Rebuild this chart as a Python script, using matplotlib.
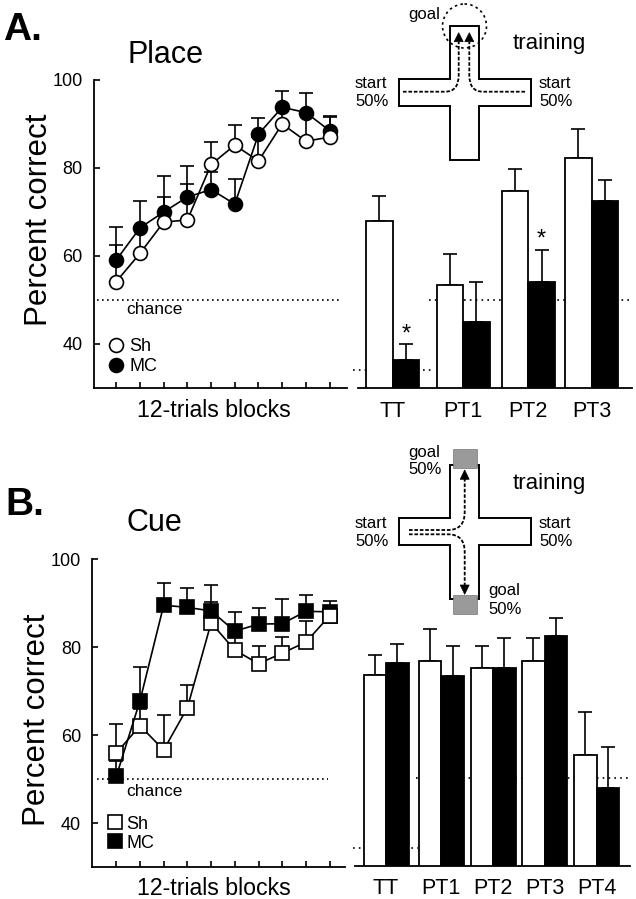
import numpy as np
import matplotlib
matplotlib.use('Agg')
from matplotlib import pyplot as plt
from matplotlib.lines import Line2D
from matplotlib.path import Path
from matplotlib.patches import PathPatch, Polygon, Circle, Rectangle

plt.rcParams['font.family'] = ['Liberation Sans', 'DejaVu Sans']

W, H = 636, 899

# Datos
blocks = np.arange(1, 11)
chance = 50
tt_chance = 34.2

place_sh = [54.2, 60.6, 67.7, 68.2, 80.8, 85.2, 81.6, 90.0, 86.1, 87.0]
place_sh_top = [62.6, 66.5, 73.4, 76.4, 85.8, 89.7, 87.0, 94.0, 92.6, 91.5]
place_mc = [59.1, 66.4, 70.0, 73.4, 75.1, 71.8, 87.7, 93.8, 92.6, 88.5]
place_mc_top = [66.5, 72.4, 78.2, 80.5, 79.0, 77.4, 91.3, 97.6, 97.1, 91.8]

cue_sh = [55.9, 62.1, 56.6, 66.2, 85.5, 79.3, 76.2, 78.6, 81.1, 87.1]
cue_sh_top = [62.4, 66.0, 64.6, 71.4, 90.3, 83.0, 80.3, 82.2, 85.8, 88.6]
cue_mc = [50.6, 67.8, 89.5, 89.0, 88.2, 83.6, 85.2, 85.3, 88.1, 88.0]
cue_mc_top = [54.0, 75.4, 94.5, 93.3, 94.2, 88.0, 88.9, 91.0, 91.8, 90.5]

place_tests = ['TT', 'PT1', 'PT2', 'PT3']
place_bar_sh = [68.0, 53.3, 74.8, 82.3]
place_bar_sh_top = [73.6, 60.5, 79.8, 88.9]
place_bar_mc = [36.3, 44.9, 54.1, 72.4]
place_bar_mc_top = [39.9, 54.1, 61.4, 77.2]

cue_tests = ['TT', 'PT1', 'PT2', 'PT3', 'PT4']
cue_bar_sh = [73.3, 76.5, 74.9, 76.6, 55.2]
cue_bar_sh_top = [78.0, 83.9, 80.0, 81.9, 65.0]
cue_bar_mc = [76.1, 73.1, 74.9, 82.2, 47.7]
cue_bar_mc_top = [80.4, 80.0, 81.9, 86.3, 57.1]

fig = plt.figure(figsize=(W / 100, H / 100), dpi=100)


def px_axes(left, top, right, bottom):
    ax = fig.add_axes([left / W, 1 - bottom / H, (right - left) / W, (bottom - top) / H])
    ax.patch.set_visible(False)
    ax.set_ylim(30, 100)
    for s in ['top', 'right']:
        ax.spines[s].set_visible(False)
    ax.spines['left'].set_linewidth(1.3)
    ax.spines['bottom'].set_linewidth(1.3)
    return ax


def up_err(val, top):
    val = np.array(val)
    return [np.zeros(len(val)), np.array(top) - val]


def line_panel(left, top, right, bottom, chance_end, xlabel_x, xlabel_pad, ylabel_y):
    ax = px_axes(left, top, right, bottom)
    x0 = 116.3
    step = 23.7
    ax.set_xlim(1 + (left - x0) / step, 1 + (right - x0) / step)
    ax.set_xticks(blocks)
    ax.set_xticklabels([])
    ax.set_yticks([40, 60, 80, 100])
    ax.tick_params(axis='both', direction='in', length=4.5, width=1.2)
    ax.tick_params(axis='y', labelsize=13, pad=8)
    ax.plot([1 + (97 - x0) / step, 1 + (chance_end - x0) / step], [chance, chance],
            color='k', ls=(0, (1, 2)), lw=1.2, zorder=1)
    ax.set_xlabel('12-trials blocks', fontsize=16.7, labelpad=xlabel_pad, x=xlabel_x)
    ax.set_ylabel('Percent correct', fontsize=22.5, labelpad=-1, y=ylabel_y)
    return ax


def series(ax, vals, tops, marker, ms, fill, z):
    ax.errorbar(blocks, vals, yerr=up_err(vals, tops), color='k', lw=1.2, marker=marker, ms=ms,
                mfc=fill, mec='k', mew=1.2, elinewidth=1.2, capsize=4.7, capthick=1.2, zorder=z)


def bar_panel(left, bottom_y, right, top_y, centers, width, tests, sh, sh_top, mc, mc_top, chance_from, tt_to):
    ax = px_axes(left, top_y, right, bottom_y)
    ax.spines['left'].set_visible(False)
    ax.set_yticks([])
    ax.set_xlim(left, right)
    centers = np.array(centers)
    ax.plot([chance_from, right + 1], [chance, chance], color='k', ls=(0, (1, 2.5)), lw=1.2, zorder=1, clip_on=False)
    ax.plot([353, tt_to], [tt_chance, tt_chance], color='k', ls=(0, (1, 2.5)), lw=1.2, zorder=1, clip_on=False)
    ax.bar(centers - width / 2, sh, width, color='white', edgecolor='k', lw=1.3, zorder=2)
    ax.bar(centers + width / 2, mc, width, color='k', edgecolor='k', lw=1.3, zorder=2)
    ax.errorbar(centers - width / 2, sh, yerr=up_err(sh, sh_top), fmt='none', ecolor='k',
                elinewidth=1.2, capsize=4.7, capthick=1.2, zorder=1.5)
    ax.errorbar(centers + width / 2, mc, yerr=up_err(mc, mc_top), fmt='none', ecolor='k',
                elinewidth=1.2, capsize=4.7, capthick=1.2, zorder=1.5)
    ax.set_xticks(centers)
    ax.set_xticklabels(tests, fontsize=15.5)
    ax.tick_params(axis='x', length=0, pad=9)
    return ax


# A, curvas
ax1 = line_panel(93.5, 80, 347, 388, 341, 0.475, 4.4, 0.545)
series(ax1, place_mc, place_mc_top, 'o', 10, 'k', 3)
series(ax1, place_sh, place_sh_top, 'o', 10, 'white', 4)
h1 = [Line2D([], [], ls='none', marker='o', ms=10, mfc='white', mec='k', mew=1.2),
      Line2D([], [], ls='none', marker='o', ms=10, mfc='k', mec='k', mew=1.2)]
ax1.legend(h1, ['Sh', 'MC'], loc='lower left', bbox_to_anchor=(-0.012, -0.011), frameon=False, fontsize=13,
           handlelength=1.0, handletextpad=0.25, labelspacing=0.17, borderpad=0.5, borderaxespad=0.4)

# B, curvas
ax3 = line_panel(92, 559, 345, 867, 328, 0.482, 3.5, 0.477)
series(ax3, cue_sh, cue_sh_top, 's', 9.5, 'white', 3)
series(ax3, cue_mc, cue_mc_top, 's', 9.5, 'k', 4)
# el ultimo cuadrado blanco queda encima
ax3.plot(blocks[-1], cue_sh[-1], marker='s', ms=9.5, mfc='white', mec='k', mew=1.2, zorder=5)
h3 = [Line2D([], [], ls='none', marker='s', ms=9.5, mfc='white', mec='k', mew=1.2),
      Line2D([], [], ls='none', marker='s', ms=9.5, mfc='k', mec='k', mew=1.2)]
ax3.legend(h3, ['Sh', 'MC'], loc='lower left', bbox_to_anchor=(-0.008, -0.003), frameon=False, fontsize=13,
           handlelength=1.0, handletextpad=0.1, labelspacing=0.12, borderpad=0.5, borderaxespad=0.4)

# Barras
bar_panel(358, 388, 632, 80, [392.7, 463, 528.3, 591.7], 26.5, place_tests,
          place_bar_sh, place_bar_sh_top, place_bar_mc, place_bar_mc_top, 429, 434)
bar_panel(355, 866, 630, 558, [386, 441.3, 493, 544.7, 596.7], 22.5, cue_tests,
          cue_bar_sh, cue_bar_sh_top, cue_bar_mc, cue_bar_mc_top, 416, 418)

# Capa en pixeles para letras y esquemas
ov = fig.add_axes([0, 0, 1, 1])
ov.set_xlim(0, W)
ov.set_ylim(H, 0)
ov.axis('off')
ov.patch.set_visible(False)


def cross(top, h_top, h_bot, bot):
    l, r, hl, hr = 450, 479.3, 399.3, 531
    pts = [(l, top), (r, top), (r, h_top), (hr, h_top), (hr, h_bot), (r, h_bot), (r, bot),
           (l, bot), (l, h_bot), (hl, h_bot), (hl, h_top), (l, h_top)]
    ov.add_patch(Polygon(pts, closed=True, fc='white', ec='k', lw=1.4, zorder=2))


def dashed_path(start, corner_start, ctrl, corner_end, end):
    path = Path([start, corner_start, ctrl, corner_end, end],
                [Path.MOVETO, Path.LINETO, Path.CURVE3, Path.CURVE3, Path.LINETO])
    ov.add_patch(PathPatch(path, fc='none', ec='k', lw=1.3, ls=(0, (2, 1)), zorder=3))


def tri(x, apex, base, half=4.5):
    ov.add_patch(Polygon([(x, apex), (x - half, base), (x + half, base)], closed=True, fc='k', ec='k', lw=0.5, zorder=4))


# esquema A
cross(26, 79, 106, 160.3)
ov.add_patch(Circle((464.5, 26), 22, fc='none', ec='k', lw=1.2, ls=(0, (1.5, 2)), zorder=3))
dashed_path((403, 91.7), (445, 91.7), (458.7, 91.7), (458.7, 75), (458.7, 42))
dashed_path((525, 91.7), (483, 91.7), (469.3, 91.7), (469.3, 75), (469.3, 42))
tri(458.7, 32.7, 41.7)
tri(469.3, 32.7, 41.7)

# esquema B
cross(465, 518.3, 545.3, 599.3)
ov.add_patch(Rectangle((453.3, 449.3), 23.4, 19, fc='#9a9a9a', ec='#777777', lw=0.5, zorder=3))
ov.add_patch(Rectangle((453.3, 595), 23.4, 19.3, fc='#9a9a9a', ec='#777777', lw=0.5, zorder=3))
dashed_path((409, 530), (448, 530), (464.7, 530), (464.7, 512), (464.7, 479))
dashed_path((409, 534.3), (448, 534.3), (464.7, 534.3), (464.7, 552), (464.7, 585))
tri(464.7, 470, 479.3)
tri(464.7, 594.3, 585)

kw = dict(va='center', ha='left', zorder=6)
ov.text(3, 30, 'A.', fontsize=28, fontweight='bold', **kw)
ov.text(5, 505, 'B.', fontsize=28, fontweight='bold', **kw)
ov.text(128, 55, 'Place', fontsize=22, **kw)
ov.text(127, 523, 'Cue', fontsize=22, **kw)
ov.text(126, 310, 'chance', fontsize=12.5, **kw)
ov.text(126, 791, 'chance', fontsize=12.5, **kw)
ov.text(408, 14, 'goal', fontsize=12, **kw)
ov.text(513, 43, 'training', fontsize=16, **kw)
ov.text(513, 483, 'training', fontsize=16, **kw)
ov.text(355, 84, 'start', fontsize=12, **kw)
ov.text(355, 101, '50%', fontsize=12, **kw)
ov.text(539, 84, 'start', fontsize=12, **kw)
ov.text(539, 101, '50%', fontsize=12, **kw)
ov.text(355, 523, 'start', fontsize=12, **kw)
ov.text(355, 541, '50%', fontsize=12, **kw)
ov.text(539, 523, 'start', fontsize=12, **kw)
ov.text(539, 541, '50%', fontsize=12, **kw)
ov.text(408, 453, 'goal', fontsize=12, **kw)
ov.text(408, 470, '50%', fontsize=12, **kw)
ov.text(488, 591, 'goal', fontsize=12, **kw)
ov.text(488, 609, '50%', fontsize=12, **kw)
ov.text(406.7, 335, '*', fontsize=17, ha='center', va='center', zorder=6)
ov.text(541.7, 240, '*', fontsize=17, ha='center', va='center', zorder=6)

fig.savefig('out.png', dpi=100)
